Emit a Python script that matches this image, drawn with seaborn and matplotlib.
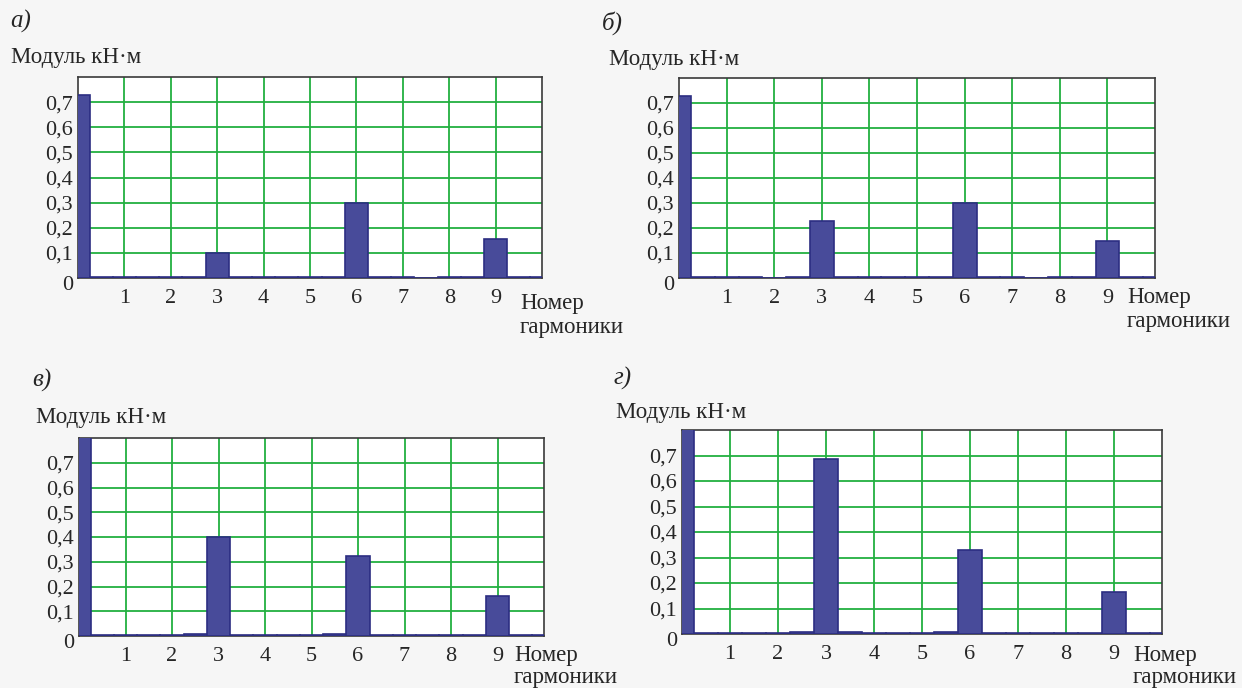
import matplotlib
matplotlib.use("Agg")
import matplotlib.pyplot as plt
import seaborn as sns

sns.set_style("white")
plt.rcParams['font.family'] = ['Liberation Serif', 'DejaVu Serif']

# ---- data ----
harmonic_pos = [0, 0.5, 1, 1.5, 2, 2.5, 3, 3.5, 4, 4.5, 5,
                5.5, 6, 6.5, 7, 7.5, 8, 8.5, 9, 9.5, 10]
x_tick_values = [1, 2, 3, 4, 5, 6, 7, 8, 9]
x_tick_labels = ["1", "2", "3", "4", "5", "6", "7", "8", "9"]
y_tick_values = [0.1, 0.2, 0.3, 0.4, 0.5, 0.6, 0.7]
y_tick_labels = ["0,1", "0,2", "0,3", "0,4", "0,5", "0,6", "0,7"]

vals_a = [0.73, 0.005, 0.005, 0.005, 0.005, 0.005, 0.10, 0.005, 0.005, 0.005, 0.005,
          0.005, 0.30, 0.005, 0.005, 0.0, 0.005, 0.005, 0.155, 0.005, 0.005]
vals_b = [0.73, 0.005, 0.005, 0.005, 0.0, 0.005, 0.23, 0.005, 0.005, 0.005, 0.005,
          0.005, 0.30, 0.005, 0.005, 0.0, 0.005, 0.005, 0.15, 0.005, 0.005]
vals_v = [0.85, 0.004, 0.004, 0.004, 0.004, 0.008, 0.40, 0.004, 0.004, 0.004, 0.004,
          0.008, 0.325, 0.004, 0.004, 0.004, 0.004, 0.004, 0.16, 0.004, 0.004]
vals_g = [0.85, 0.004, 0.004, 0.004, 0.004, 0.008, 0.685, 0.008, 0.004, 0.004, 0.004,
          0.008, 0.33, 0.004, 0.004, 0.004, 0.004, 0.004, 0.165, 0.004, 0.004]

panel_letters = ["а", "б", "в", "г"]
y_title = "Модуль кН·м"
x_title_1 = "Номер"
x_title_2 = "гармоники"

W, H = 1242, 688
BAR = "#484b9a"
BAR_EDGE = "#2c2e82"
GRID = "#22b040"
TICK_FS = 16
TITLE_FS = 16.5

fig = plt.figure(figsize=(W / 100, H / 100), dpi=100, facecolor="#f6f6f6")

# layout in pixels: box (L, R, T, B), letter (x, y), ytitle (x, y), xtitle (x, y1, y2)
layouts = [
    dict(box=(78, 542, 77, 278), letter=(10, 21), ytitle=(11, 58), xtitle=(520, 303, 328)),
    dict(box=(679, 1155, 78, 278), letter=(602, 23), ytitle=(609, 59), xtitle=(1127, 298, 322)),
    dict(box=(79, 544, 438, 636), letter=(32, 380), ytitle=(36, 417), xtitle=(514, 655, 678)),
    dict(box=(682, 1162, 430, 634), letter=(614, 378), ytitle=(616, 413), xtitle=(1133, 655, 678)),
]
all_vals = [vals_a, vals_b, vals_v, vals_g]


def fx(px):
    return px / W


def fy(py):
    return 1 - py / H


for vals, lay, letter in zip(all_vals, layouts, panel_letters):
    L, R, T, B = lay["box"]
    ax = fig.add_axes([fx(L), fy(B), (R - L) / W, (B - T) / H])
    ax.set_facecolor("white")
    sns.barplot(x=harmonic_pos, y=vals, native_scale=True, width=1.0,
                color=BAR, saturation=1, edgecolor=BAR_EDGE, linewidth=1.2,
                ax=ax, zorder=3)
    ax.set_xlim(0, 10)
    ax.set_ylim(0, 0.8)
    ax.set_xticks(x_tick_values)
    ax.set_xticklabels(x_tick_labels, fontsize=TICK_FS)
    ax.set_yticks(y_tick_values)
    ax.set_yticklabels(y_tick_labels, fontsize=TICK_FS)
    ax.tick_params(axis="x", length=0, pad=8)
    ax.tick_params(axis="y", length=0, pad=4)
    ax.grid(True, color=GRID, linewidth=1.3)
    ax.set_axisbelow(True)
    ax.set_xlabel("")
    ax.set_ylabel("")
    for s in ax.spines.values():
        s.set_color("#3a3a3a")
        s.set_linewidth(1.2)
        s.set_visible(True)
    ax.annotate("0", xy=(0, 0), xycoords=("axes fraction", "data"),
                xytext=(-5, -7), textcoords="offset pixels",
                ha="right", va="center", fontsize=TICK_FS)

    fig.text(fx(lay["letter"][0]), fy(lay["letter"][1]), letter + ")",
             fontsize=18, style="italic", ha="left", va="center")
    fig.text(fx(lay["ytitle"][0]), fy(lay["ytitle"][1]), y_title,
             fontsize=TITLE_FS, ha="left", va="center")
    xt = lay["xtitle"]
    fig.text(fx(xt[0]), fy(xt[1]), x_title_1, fontsize=TITLE_FS, ha="left", va="center")
    fig.text(fx(xt[0]), fy(xt[2]), x_title_2, fontsize=TITLE_FS, ha="left", va="center")

fig.savefig("out.png", dpi=100, facecolor=fig.get_facecolor())
